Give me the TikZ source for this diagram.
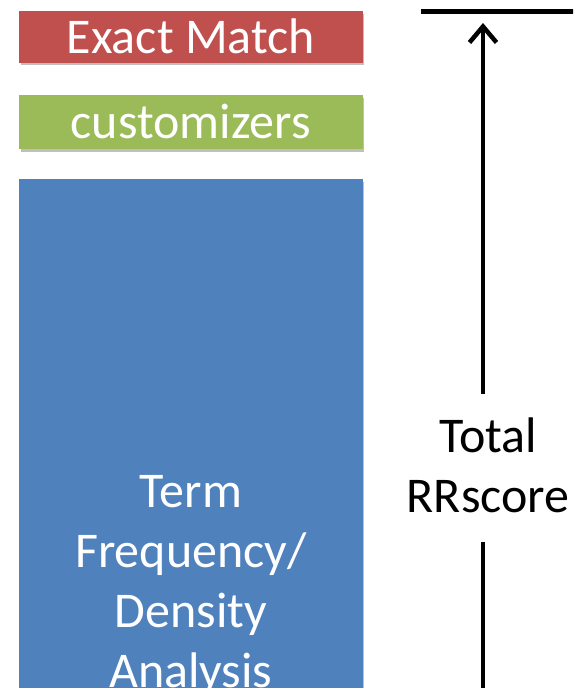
\documentclass[tikz,border=0pt]{standalone}
\usepackage{fontspec}
\setmainfont{Carlito}
\usetikzlibrary{arrows.meta,shadows}
\definecolor{exred}{HTML}{C0504D}
\definecolor{exgreen}{HTML}{9BBB59}
\definecolor{exblue}{HTML}{4F81BD}
\begin{document}
\begin{tikzpicture}[x=1pt,y=-1pt,
  box/.style={draw=none, inner sep=0pt, minimum width=343.7pt, text=white,
    font=\fontsize{50}{60}\selectfont, text height=33pt, text depth=0pt,
    drop shadow={shadow xshift=1.5pt, shadow yshift=-2.5pt, opacity=0.25, fill=black}},
  bigtext/.style={inner sep=0pt, align=center, font=\fontsize{50}{59.5}\selectfont},
  thick line/.style={line width=4.5pt, black}
]
\useasboundingbox (0,0) rectangle (573,688);
\clip (0,0) rectangle (573,688);
\node (exact) [box, fill=exred, minimum height=51.7pt] at (190.85,36.85) {Exact Match};
\node (cust) [box, fill=exgreen, minimum height=54pt] at (190.85,122) {customizers};
\node (tfbox) [box, fill=exblue, minimum height=600pt, anchor=north] at (190.85,179) {};
\node (tftext) [bigtext, text=white, anchor=base, font=\fontsize{50}{60}\selectfont] at (190.85,687) {Term\\Frequency/\\Density\\Analysis};
\node (total) [bigtext, anchor=base] at (488,512.2) {Total\\RRscore};
\coordinate (topl) at (420.7,11.7);
\coordinate (topr) at (575,11.7);
\coordinate (arrtip) at (483,23);
\coordinate (arrbot) at (483,394);
\coordinate (lowtop) at (483,541.5);
\coordinate (lowbot) at (483,700);
\draw[thick line] (topl) -- (topr);
\draw[thick line, -{Straight Barb[length=16pt,width=27pt]}] (arrbot) -- (arrtip);
\draw[thick line] (lowtop) -- (lowbot);
\end{tikzpicture}
\end{document}
